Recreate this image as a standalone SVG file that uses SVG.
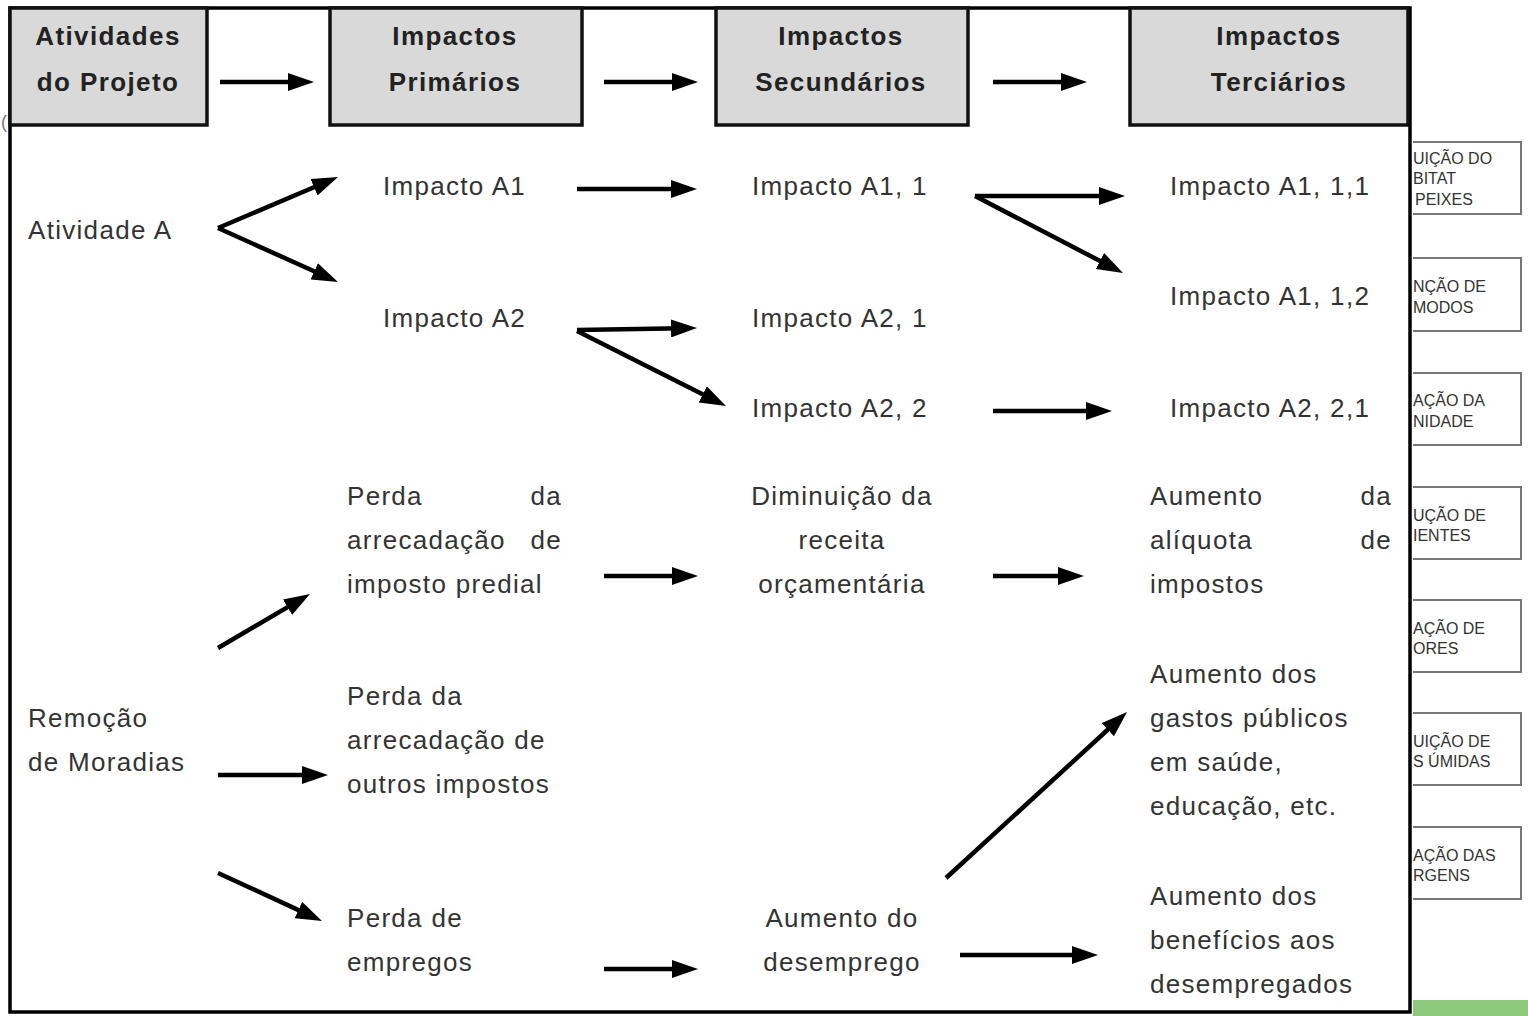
<svg xmlns="http://www.w3.org/2000/svg" width="1528" height="1016" viewBox="0 0 1528 1016">
<style>
.hdr{fill:#d9d9d9;stroke:#111;stroke-width:3.5}
.ht{font-family:"Liberation Sans",Arial,sans-serif;font-weight:bold;font-size:26px;fill:#222;text-anchor:middle;letter-spacing:1.4px}
.t{font-family:"Liberation Sans",Arial,sans-serif;font-size:26px;fill:#333;letter-spacing:1.3px}
.c{text-anchor:middle}
.e{text-anchor:end}
.ar{stroke:#000;stroke-width:4.5;fill:none;marker-end:url(#ah)}
.sb{fill:#fff;stroke:#777;stroke-width:2}
.st{font-family:"Liberation Sans",Arial,sans-serif;font-size:16px;fill:#333}
</style>
<defs>
<marker id="ah" viewBox="0 0 26 18" refX="12" refY="9" markerWidth="26" markerHeight="18" markerUnits="userSpaceOnUse" orient="auto">
<path d="M0,0 L26,9 L0,18 z" fill="#000"/>
</marker>
<clipPath id="sideclip"><rect x="1413" y="0" width="115" height="1016"/></clipPath>
</defs>
<rect x="0" y="0" width="1528" height="1016" fill="#fff"/>

<!-- side boxes (cropped) -->
<g id="side" clip-path="url(#sideclip)">
<rect class="sb" x="1400" y="142" width="121" height="72"/>
<text class="st" x="1413" y="164">UIÇÃO DO</text>
<text class="st" x="1413" y="184">BITAT</text>
<text class="st" x="1415" y="205">PEIXES</text>
<rect class="sb" x="1400" y="258" width="121" height="73"/>
<text class="st" x="1413" y="292">NÇÃO DE</text>
<text class="st" x="1413" y="313">MODOS</text>
<rect class="sb" x="1400" y="373" width="121" height="72"/>
<text class="st" x="1413" y="406">AÇÃO DA</text>
<text class="st" x="1413" y="427">NIDADE</text>
<rect class="sb" x="1400" y="487" width="121" height="72"/>
<text class="st" x="1413" y="521">UÇÃO DE</text>
<text class="st" x="1413" y="541">IENTES</text>
<rect class="sb" x="1400" y="600" width="121" height="72"/>
<text class="st" x="1413" y="634">AÇÃO DE</text>
<text class="st" x="1413" y="654">ORES</text>
<rect class="sb" x="1400" y="713" width="121" height="72"/>
<text class="st" x="1413" y="747">UIÇÃO DE</text>
<text class="st" x="1413" y="767">S ÚMIDAS</text>
<rect class="sb" x="1400" y="827" width="121" height="72"/>
<text class="st" x="1413" y="861">AÇÃO DAS</text>
<text class="st" x="1413" y="881">RGENS</text>
<rect x="1413" y="1000" width="115" height="16" fill="#8dc97b" stroke="none"/>
</g>

<text x="1" y="128" style="font-family:'Liberation Sans',Arial,sans-serif;font-size:18px;fill:#777">(</text>

<!-- outer frame -->
<rect id="frame" x="10" y="8" width="1400" height="1004" fill="#fff" stroke="#000" stroke-width="3.5"/>

<!-- header nodes -->
<g id="h1"><rect class="hdr" x="10" y="8" width="197" height="117"/>
<text class="ht" x="108" y="45">Atividades</text><text class="ht" x="108" y="91">do Projeto</text></g>
<g id="h2"><rect class="hdr" x="330" y="8" width="252" height="117"/>
<text class="ht" x="455" y="45">Impactos</text><text class="ht" x="455" y="91">Primários</text></g>
<g id="h3"><rect class="hdr" x="716" y="8" width="252" height="117"/>
<text class="ht" x="841" y="45">Impactos</text><text class="ht" x="841" y="91">Secundários</text></g>
<g id="h4"><rect class="hdr" x="1130" y="8" width="278" height="117"/>
<text class="ht" x="1279" y="45">Impactos</text><text class="ht" x="1279" y="91">Terciários</text></g>

<!-- body nodes -->
<g id="n_ativA"><text class="t" x="28" y="239">Atividade A</text></g>
<g id="n_A1"><text class="t" x="383" y="195">Impacto A1</text></g>
<g id="n_A2"><text class="t" x="383" y="327">Impacto A2</text></g>
<g id="n_A11"><text class="t" x="752" y="195">Impacto A1, 1</text></g>
<g id="n_A21"><text class="t" x="752" y="327">Impacto A2, 1</text></g>
<g id="n_A22"><text class="t" x="752" y="417">Impacto A2, 2</text></g>
<g id="n_A111"><text class="t" x="1170" y="195">Impacto A1, 1,1</text></g>
<g id="n_A112"><text class="t" x="1170" y="305">Impacto A1, 1,2</text></g>
<g id="n_A221"><text class="t" x="1170" y="417">Impacto A2, 2,1</text></g>

<g id="n_predial">
<text class="t" x="347" y="505">Perda</text><text class="t e" x="562" y="505">da</text>
<text class="t" x="347" y="549">arrecadação</text><text class="t e" x="562" y="549">de</text>
<text class="t" x="347" y="593">imposto predial</text>
</g>
<g id="n_receita">
<text class="t c" x="842" y="505">Diminuição da</text>
<text class="t c" x="842" y="549">receita</text>
<text class="t c" x="842" y="593">orçamentária</text>
</g>
<g id="n_aliquota">
<text class="t" x="1150" y="505">Aumento</text><text class="t e" x="1392" y="505">da</text>
<text class="t" x="1150" y="549">alíquota</text><text class="t e" x="1392" y="549">de</text>
<text class="t" x="1150" y="593">impostos</text>
</g>
<g id="n_remocao">
<text class="t" x="28" y="727">Remoção</text>
<text class="t" x="28" y="771">de Moradias</text>
</g>
<g id="n_outros">
<text class="t" x="347" y="705">Perda da</text>
<text class="t" x="347" y="749">arrecadação de</text>
<text class="t" x="347" y="793">outros impostos</text>
</g>
<g id="n_gastos">
<text class="t" x="1150" y="683">Aumento dos</text>
<text class="t" x="1150" y="727">gastos públicos</text>
<text class="t" x="1150" y="771">em saúde,</text>
<text class="t" x="1150" y="815">educação, etc.</text>
</g>
<g id="n_empregos">
<text class="t" x="347" y="927">Perda de</text>
<text class="t" x="347" y="971">empregos</text>
</g>
<g id="n_desemprego">
<text class="t c" x="842" y="927">Aumento do</text>
<text class="t c" x="842" y="971">desemprego</text>
</g>
<g id="n_beneficios">
<text class="t" x="1150" y="905">Aumento dos</text>
<text class="t" x="1150" y="949">benefícios aos</text>
<text class="t" x="1150" y="993">desempregados</text>
</g>

<!-- connectors -->
<g id="connectors">
<line class="ar" x1="220" y1="82" x2="300" y2="82"/>
<line class="ar" x1="604" y1="82" x2="684" y2="82"/>
<line class="ar" x1="993" y1="82" x2="1073" y2="82"/>
<line class="ar" x1="218" y1="228" x2="325.1" y2="182.5"/>
<line class="ar" x1="218" y1="228" x2="325.2" y2="276.3"/>
<line class="ar" x1="577" y1="189" x2="683" y2="189"/>
<line class="ar" x1="975" y1="196" x2="1111" y2="196"/>
<line class="ar" x1="975" y1="196" x2="1110.6" y2="266.5"/>
<line class="ar" x1="577" y1="330" x2="683" y2="328.2"/>
<line class="ar" x1="577" y1="331" x2="713.5" y2="399.7"/>
<line class="ar" x1="993" y1="411" x2="1098" y2="411"/>
<line class="ar" x1="218" y1="648" x2="297.9" y2="601.1"/>
<line class="ar" x1="604" y1="576" x2="684" y2="576"/>
<line class="ar" x1="993" y1="576" x2="1070" y2="576"/>
<line class="ar" x1="218" y1="775" x2="314" y2="775"/>
<line class="ar" x1="218" y1="873" x2="309.3" y2="915.1"/>
<line class="ar" x1="604" y1="969" x2="684" y2="969"/>
<line class="ar" x1="946" y1="878" x2="1116.7" y2="721.5"/>
<line class="ar" x1="960" y1="955" x2="1084" y2="955"/>
</g>
</svg>
